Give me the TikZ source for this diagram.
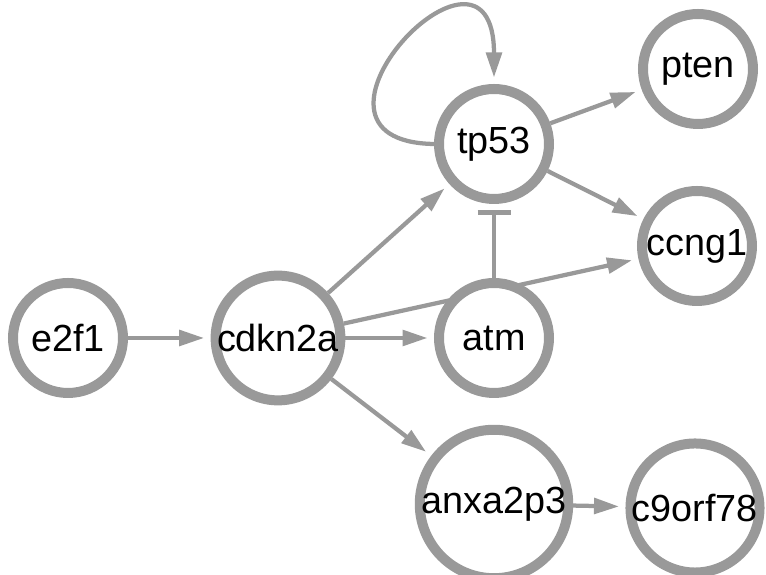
\documentclass[tikz,border=0pt]{standalone}
\usepackage{fontspec}
\setmainfont{Liberation Sans}
\usetikzlibrary{positioning}
\usetikzlibrary{arrows.meta}
\usetikzlibrary{backgrounds}
\definecolor{ringgray}{RGB}{153,153,153}

\begin{document}
\begin{tikzpicture}[-{Triangle[length=0.5cm,width=0.31cm]}, node distance=4.2cm, on grid, shorten >=0.13cm,
gene/.style={circle, draw=ringgray, fill=white, line width=0.2cm, minimum size=2.2cm, inner sep=0pt, text=black, font=\fontsize{21.5}{24}\selectfont},
link/.style={draw=ringgray, line width=0.085cm}]
\useasboundingbox (-1.36,-4.74) rectangle (13.96,6.76);
\node[gene] (e2f1) {e2f1};
\node[gene] (cdkn2a) [right =of e2f1] {cdkn2a};
\node[gene] (atm) [right =4.32cm of cdkn2a] {atm};
\node[gene] (tp53) [above =3.88cm of atm] {tp53};
\node[gene] (anxa2p3) [below =3.32cm of atm] {anxa2p3};
\node[gene] (ccng1) [above right =1.84cm and 4.06cm of atm] {ccng1};
\node[gene] (pten) [above right =1.5cm and 4.08cm of tp53] {pten};
\node[gene] (c9orf78) [below right =0.08cm and 4.02cm of anxa2p3] {c9orf78};
\begin{scope}[on background layer]
\draw[link] (e2f1) -- (cdkn2a);
\draw[link] (cdkn2a) -- (tp53);
\draw[link] (cdkn2a) -- (ccng1);
\draw[link] (cdkn2a) -- (atm);
\draw[link] (cdkn2a) -- (anxa2p3);
\draw[link] (tp53) -- (pten);
\draw[link] (tp53) -- (ccng1);
\draw[link, -{Bar[width=0.66cm]}] (atm) -- (tp53);
\draw[link] (anxa2p3) -- (c9orf78);
% self regulation of tp53
\draw[link] (tp53.west) .. controls +(-3.3,0.05) and +(0,3.6) .. (tp53.north);
\end{scope}
\end{tikzpicture}
\end{document}
